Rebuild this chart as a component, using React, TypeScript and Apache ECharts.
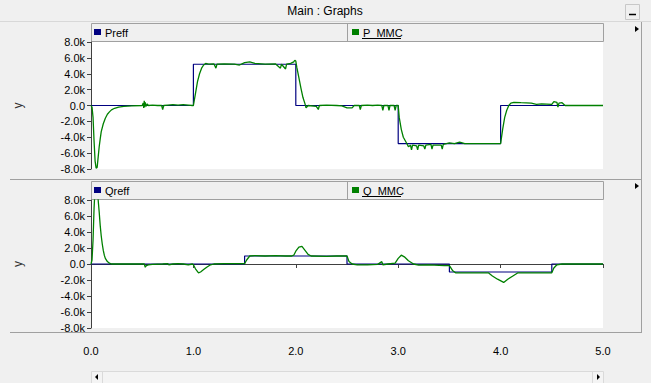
import React, { useEffect, useRef } from "react";
import * as echarts from "echarts";

const titleText = "Main : Graphs";
const topNames = ["Preff", "P_MMC"];
const bottomNames = ["Qreff", "Q_MMC"];

const xMin = 0;
const xMax = 5;
const xInterval = 1;
const yMin = -8000;
const yMax = 8000;
const yInterval = 2000;

const preff: [number, number][] = [
  [0, 0], [1.0, 0], [1.0, 5200], [2.0, 5200], [2.0, 0], [3.0, 0], [3.0, -4800],
  [4.0, -4800], [4.0, 0], [5.0, 0],
];

const pMmc: [number, number][] = [
  [0, 0], [0.01, -200], [0.02, -1500], [0.03, -4500], [0.04, -7000], [0.05, -7900],
  [0.06, -7800], [0.07, -6500], [0.08, -5200], [0.09, -4200], [0.1, -3300], [0.12, -2300],
  [0.14, -1600], [0.16, -1100], [0.18, -800], [0.2, -550], [0.23, -350], [0.27, -200],
  [0.32, -100], [0.4, -50], [0.5, 0], [0.51, 300], [0.515, -300], [0.52, 600], [0.525, -200],
  [0.53, 400], [0.54, -100], [0.55, 200], [0.56, 0], [0.6, 50], [0.65, 0], [0.69, 0],
  [0.7, -500], [0.71, 0], [0.75, 50], [0.8, 100], [0.85, 50], [0.9, 100], [0.95, 50],
  [0.99, 0], [1.0, 0], [1.02, 1500], [1.04, 3000], [1.06, 4000], [1.08, 4700], [1.1, 5100],
  [1.12, 5300], [1.15, 5200], [1.2, 5250], [1.22, 4700], [1.23, 5200], [1.3, 5250],
  [1.4, 5200], [1.45, 5100], [1.5, 5400], [1.55, 5500], [1.6, 5300], [1.7, 5200],
  [1.8, 5250], [1.85, 4700], [1.86, 5200], [1.9, 4600], [1.91, 5200], [1.95, 5300],
  [1.98, 5500], [1.99, 5700], [2.0, 5600], [2.01, 4800], [2.03, 3500], [2.05, 2200],
  [2.07, 1000], [2.09, 200], [2.1, -300], [2.12, 0], [2.2, -100], [2.22, -500], [2.23, 0],
  [2.3, 50], [2.4, 0], [2.45, -50], [2.5, -300], [2.55, -300], [2.57, 0], [2.62, 0],
  [2.63, -500], [2.64, 0], [2.7, 50], [2.75, 0], [2.8, 50], [2.84, 0], [2.85, -600],
  [2.86, 0], [2.9, 0], [2.91, -600], [2.92, 0], [2.96, 0], [2.97, -600], [2.98, 0],
  [3.0, 0], [3.01, -1500], [3.03, -3000], [3.05, -4000], [3.08, -4700], [3.1, -5200],
  [3.12, -5000], [3.13, -5600], [3.14, -5000], [3.18, -5100], [3.19, -5600], [3.2, -5000],
  [3.25, -5100], [3.26, -5500], [3.27, -5000], [3.32, -4900], [3.33, -5500], [3.34, -5000],
  [3.42, -5000], [3.43, -5500], [3.44, -4900], [3.5, -4700], [3.55, -4800], [3.6, -4600],
  [3.65, -4800], [4.0, -4800], [4.02, -3000], [4.04, -1500], [4.06, -600], [4.08, 0],
  [4.1, 300], [4.13, 400], [4.2, 350], [4.3, 300], [4.35, 150], [4.4, 200], [4.5, 150],
  [4.52, 500], [4.55, 400], [4.56, -200], [4.57, 300], [4.6, 350], [4.63, 0], [4.7, 0],
  [5.0, 0],
];

const qreff: [number, number][] = [
  [0, 0], [1.5, 0], [1.5, 1000], [2.5, 1000], [2.5, 0], [3.5, 0], [3.5, -1000],
  [4.5, -1000], [4.5, 0], [5.0, 0],
];

const qMmc: [number, number][] = [
  [0, 0], [0.01, 500], [0.02, 3000], [0.03, 7000], [0.04, 9500], [0.05, 10000],
  [0.06, 9500], [0.07, 8000], [0.08, 6500], [0.09, 4800], [0.1, 3500], [0.11, 2500],
  [0.12, 1700], [0.13, 1100], [0.14, 700], [0.16, 300], [0.18, 100], [0.2, 0], [0.52, 0],
  [0.53, -400], [0.54, -200], [0.56, -100], [0.6, -50], [0.7, 0], [0.75, 50], [0.76, -100],
  [0.8, 0], [0.85, 50], [0.9, 0], [0.95, -100], [0.99, 0], [1.0, -100], [1.02, -600],
  [1.05, -1100], [1.07, -1000], [1.1, -700], [1.13, -400], [1.16, -150], [1.2, 0],
  [1.3, 50], [1.5, 50], [1.52, 500], [1.55, 1000], [1.6, 1050], [1.7, 1000], [1.8, 1050],
  [1.9, 1000], [1.96, 1000], [1.98, 1100], [2.0, 1600], [2.03, 2100], [2.06, 2200],
  [2.09, 1700], [2.12, 1200], [2.15, 1000], [2.3, 950], [2.4, 1000], [2.5, 1000],
  [2.52, 300], [2.55, 0], [2.6, -100], [2.7, -100], [2.8, -50], [2.84, 300], [2.85, -100],
  [2.9, 0], [2.97, 100], [3.0, 700], [3.03, 1100], [3.06, 900], [3.1, 400], [3.15, 0],
  [3.2, -150], [3.3, -100], [3.45, -200], [3.5, -200], [3.53, -800], [3.56, -1100],
  [3.7, -1100], [3.88, -1100], [3.92, -1500], [3.97, -1900], [4.03, -2300], [4.07, -1900],
  [4.12, -1500], [4.17, -1100], [4.5, -1100], [4.52, -500], [4.55, -100], [4.6, 0],
  [5.0, 0],
];

const FONT = "Liberation Sans, Arial, sans-serif";
const NAVY = "#000080";
const GREEN = "#008000";

function yFmt(v: number) {
  if (v === 0) return "0.0";
  return (v / 1000).toFixed(1) + "k";
}

function header(y: number, names: string[]) {
  return [
    { type: "rect", shape: { x: 91.5, y: y + 0.5, width: 512, height: 18 }, style: { fill: "#f0f0f0", stroke: "#a0a0a0", lineWidth: 1 } },
    { type: "line", shape: { x1: 347.5, y1: y, x2: 347.5, y2: y + 19 }, style: { stroke: "#a0a0a0", lineWidth: 1 } },
    { type: "rect", shape: { x: 94, y: y + 6, width: 7, height: 6 }, style: { fill: NAVY } },
    { type: "text", x: 105, y: y + 9.5, style: { text: names[0], font: `11px ${FONT}`, fill: "#000", verticalAlign: "middle" } },
    { type: "rect", shape: { x: 352, y: y + 6, width: 7, height: 6 }, style: { fill: GREEN } },
    { type: "text", x: 363, y: y + 9.5, style: { text: names[1], font: `11px ${FONT}`, fill: "#000", verticalAlign: "middle" } },
    { type: "line", shape: { x1: 362, y1: y + 15.5, x2: 401, y2: y + 15.5 }, style: { stroke: "#000", lineWidth: 1 } },
  ];
}

export default function App() {
  const ref = useRef<HTMLDivElement>(null);
  useEffect(() => {
    const chart = echarts.init(ref.current!, null, { renderer: "svg" });
    const yAxisBase = {
      type: "value",
      min: yMin,
      max: yMax,
      interval: yInterval,
      name: "y",
      nameLocation: "middle",
      nameGap: 67,
      nameRotate: 90,
      nameTextStyle: { fontFamily: FONT, fontSize: 12, color: "#333" },
      axisLine: { show: true, lineStyle: { color: "#404040", width: 1 } },
      axisTick: { show: true, length: 4, lineStyle: { color: "#404040" } },
      axisLabel: { formatter: yFmt, fontFamily: FONT, fontSize: 11, color: "#000", margin: 6 },
      splitLine: { show: false },
    };
    const option: any = {
      animation: false,
      backgroundColor: "#f0f0f0",
      grid: [
        { left: 91, top: 42, width: 512, height: 127, show: true, backgroundColor: "#fff", borderWidth: 0 },
        { left: 91, top: 200, width: 512, height: 128, show: true, backgroundColor: "#fff", borderWidth: 0 },
      ],
      xAxis: [
        { type: "value", gridIndex: 0, min: xMin, max: xMax, interval: xInterval, show: false },
        {
          type: "value", gridIndex: 1, min: xMin, max: xMax, interval: xInterval,
          position: "bottom", offset: 11,
          axisLine: { show: true, lineStyle: { color: "#404040", width: 1 } },
          axisTick: { show: true, length: 4, lineStyle: { color: "#404040" } },
          axisLabel: { formatter: (v: number) => v.toFixed(1), fontFamily: FONT, fontSize: 11, color: "#000", margin: 6 },
          splitLine: { show: false },
        },
      ],
      yAxis: [
        { ...yAxisBase, gridIndex: 0 },
        { ...yAxisBase, gridIndex: 1 },
      ],
      series: [
        { name: topNames[0], type: "line", xAxisIndex: 0, yAxisIndex: 0, data: preff, showSymbol: false, lineStyle: { color: NAVY, width: 1.2 }, clip: true },
        { name: topNames[1], type: "line", xAxisIndex: 0, yAxisIndex: 0, data: pMmc, showSymbol: false, lineStyle: { color: GREEN, width: 1.3 }, clip: true },
        { name: bottomNames[0], type: "line", xAxisIndex: 1, yAxisIndex: 1, data: qreff, showSymbol: false, lineStyle: { color: NAVY, width: 1.2 }, clip: true },
        { name: bottomNames[1], type: "line", xAxisIndex: 1, yAxisIndex: 1, data: qMmc, showSymbol: false, lineStyle: { color: GREEN, width: 1.3 }, clip: true },
      ],
      graphic: [
        { type: "line", shape: { x1: 0, y1: 21.5, x2: 651, y2: 21.5 }, style: { stroke: "#d8d8d8", lineWidth: 1 } },
        { type: "text", x: 325, y: 11, style: { text: titleText, font: `12px ${FONT}`, fill: "#000", align: "center", verticalAlign: "middle" } },
        { type: "rect", shape: { x: 625.5, y: 4.5, width: 14, height: 15 }, style: { fill: "#f0f0f0", stroke: "#c8c8c8", lineWidth: 1 } },
        { type: "line", shape: { x1: 629, y1: 14.5, x2: 636, y2: 14.5 }, style: { stroke: "#000", lineWidth: 1.5 } },
        { type: "line", shape: { x1: 641.5, y1: 22, x2: 641.5, y2: 332 }, style: { stroke: "#a0a0a0", lineWidth: 1 } },
        { type: "line", shape: { x1: 10, y1: 179.5, x2: 642, y2: 179.5 }, style: { stroke: "#a0a0a0", lineWidth: 1 } },
        { type: "line", shape: { x1: 10, y1: 332.5, x2: 642, y2: 332.5 }, style: { stroke: "#a0a0a0", lineWidth: 1 } },
        { type: "polygon", shape: { points: [[635, 26], [635, 32], [639, 29]] }, style: { fill: "#000" } },
        { type: "polygon", shape: { points: [[635, 183], [635, 189], [639, 186]] }, style: { fill: "#000" } },
        ...header(23, topNames),
        ...header(181, bottomNames),
        { type: "rect", shape: { x: 91.5, y: 371.5, width: 512, height: 12 }, style: { fill: "#f4f4f4", stroke: "#dadada", lineWidth: 1 } },
        { type: "line", shape: { x1: 102.5, y1: 372, x2: 102.5, y2: 383 }, style: { stroke: "#dadada", lineWidth: 1 } },
        { type: "line", shape: { x1: 592.5, y1: 372, x2: 592.5, y2: 383 }, style: { stroke: "#dadada", lineWidth: 1 } },
        { type: "polygon", shape: { points: [[98, 374], [98, 380], [95, 377]] }, style: { fill: "#000" } },
        { type: "polygon", shape: { points: [[597, 374], [597, 380], [600, 377]] }, style: { fill: "#000" } },
      ],
    };
    chart.setOption(option);
    return () => chart.dispose();
  }, []);
  return (
    <div
      ref={ref}
      style={{ position: "fixed", left: 0, top: 0, width: 651, height: 383, background: "#f0f0f0" }}
    />
  );
}
